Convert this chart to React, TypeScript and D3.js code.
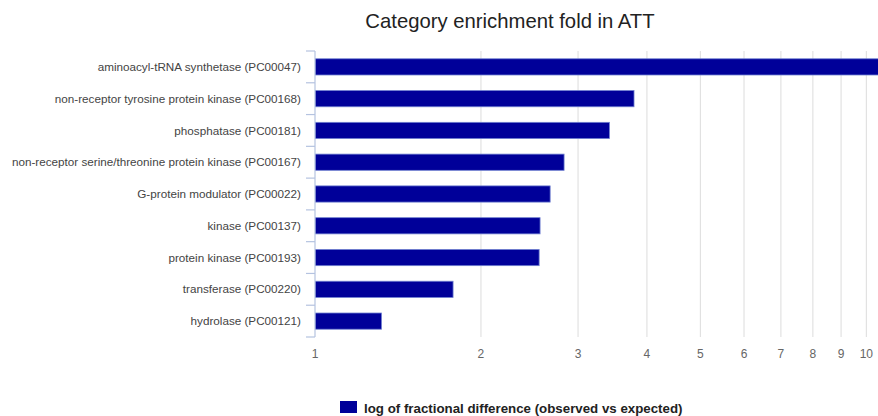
import * as d3 from 'd3';

const categories = [
  'aminoacyl-tRNA synthetase (PC00047)',
  'non-receptor tyrosine protein kinase (PC00168)',
  'phosphatase (PC00181)',
  'non-receptor serine/threonine protein kinase (PC00167)',
  'G-protein modulator (PC00022)',
  'kinase (PC00137)',
  'protein kinase (PC00193)',
  'transferase (PC00220)',
  'hydrolase (PC00121)',
];
const foldValues = [11.2, 3.79, 3.42, 2.83, 2.67, 2.56, 2.55, 1.78, 1.32];
const tickValues = [1, 2, 3, 4, 5, 6, 7, 8, 9, 10];
const title = 'Category enrichment fold in ATT';
const seriesName = 'log of fractional difference (observed vs expected)';

const width = 878;
const height = 416;
const margin = { top: 51, right: 0, bottom: 79, left: 315 };
const font = '"Liberation Sans", Arial, sans-serif';

export default function App() {
  const x = d3.scaleLog().domain([1, 10.5]).range([margin.left, width - margin.right]);
  const y = d3.scaleBand<string>()
    .domain(categories)
    .range([margin.top, height - margin.bottom])
    .paddingInner(0.49)
    .paddingOuter(0.245);
  const plotTop = margin.top;
  const plotBottom = height - margin.bottom;
  const step = y.step();

  return (
    <svg width={width} height={height} style={{ position: 'absolute', left: 0, top: 0, fontFamily: font }}>
      <defs>
        <clipPath id="plot">
          <rect x={margin.left} y={plotTop} width={width - margin.left} height={plotBottom - plotTop} />
        </clipPath>
      </defs>
      <rect width={width} height={height} fill="#fff" />
      <text x={510} y={28} textAnchor="middle" fontSize={20.3} fill="#222">{title}</text>

      {/* grid */}
      {tickValues.filter(t => t > 1).map(t => (
        <line key={t} x1={x(t)} x2={x(t)} y1={plotTop} y2={plotBottom} stroke="#dcdcdc" strokeWidth={1} />
      ))}

      {/* bars */}
      <g clipPath="url(#plot)">
        {categories.map((c, i) => (
          <rect key={c} x={x(1)} y={y(c)!} width={x(foldValues[i]) - x(1)} height={y.bandwidth()}
            fill="#000099" stroke="#6f7fd0" strokeWidth={0.8} />
        ))}
      </g>

      {/* y axis */}
      <line x1={margin.left} x2={margin.left} y1={plotTop} y2={plotBottom} stroke="#b5c3e0" strokeWidth={1.2} />
      {d3.range(categories.length + 1).map(i => {
        const yy = plotTop + i * step;
        return <line key={i} x1={margin.left - 9} x2={margin.left} y1={yy} y2={yy} stroke="#b5c3e0" strokeWidth={1.2} />;
      })}
      {categories.map(c => (
        <text key={c} x={301} y={y(c)! + y.bandwidth() / 2} dy="0.35em" textAnchor="end" fontSize={11.7} fill="#444">{c}</text>
      ))}

      {/* x labels */}
      {tickValues.map(t => (
        <text key={t} x={x(t)} y={358} textAnchor="middle" fontSize={12} fill="#666">{t}</text>
      ))}

      {/* legend */}
      <rect x={340} y={401} width={17} height={12} fill="#000099" />
      <text x={364} y={413} fontSize={13.3} fontWeight="bold" fill="#222">{seriesName}</text>
    </svg>
  );
}
